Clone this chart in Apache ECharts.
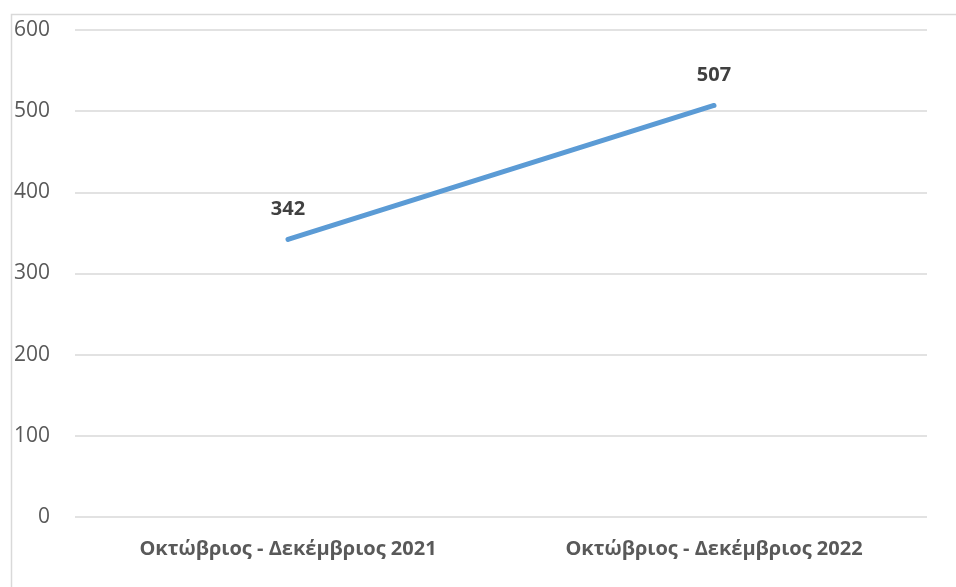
<!DOCTYPE html>
<html><head><meta charset="utf-8">
<script src="https://cdn.jsdelivr.net/npm/echarts@6/dist/echarts.min.js"></script>
<style>html,body{margin:0;padding:0;background:#fff}#c{width:956px;height:587px}</style>
</head><body><div id="c"></div>
<script>
const categories = ['Οκτώβριος - Δεκέμβριος 2021', 'Οκτώβριος - Δεκέμβριος 2022'];
const values = [342, 507];
const yTicks = { min: 0, max: 600, interval: 100 };

const chart = echarts.init(document.getElementById('c'));
chart.setOption({
  animation: false,
  backgroundColor: '#fff',
  textStyle: { fontFamily: 'Open Sans' },
  graphic: [{
    type: 'rect', left: 9, top: 12,
    shape: { width: 960, height: 600 },
    style: { fill: 'none', stroke: '#d9d9d9', lineWidth: 1.5 }
  }],
  grid: { left: 75, right: 29, top: 30, bottom: 70 },
  xAxis: {
    type: 'category', data: categories, boundaryGap: true,
    axisLine: { show: false }, axisTick: { show: false },
    axisLabel: { color: '#595959', fontSize: 20, fontWeight: 'bold', margin: 22, fontFamily: 'Open Sans' }
  },
  yAxis: {
    type: 'value', min: yTicks.min, max: yTicks.max, interval: yTicks.interval,
    axisLine: { show: false }, axisTick: { show: false },
    axisLabel: { color: '#595959', fontSize: 21, margin: 25, fontFamily: 'Open Sans' },
    splitLine: { lineStyle: { color: '#d9d9d9', width: 1.5 } }
  },
  series: [{
    type: 'line', data: values, symbol: 'circle', symbolSize: 4, showSymbol: true,
    itemStyle: { color: '#5b9bd5', borderWidth: 0 },
    lineStyle: { color: '#5b9bd5', width: 5, cap: 'round' },
    label: { show: true, position: 'top', distance: 18, color: '#404040', fontSize: 20, fontWeight: 'bold', fontFamily: 'Open Sans' }
  }]
});
</script></body></html>
